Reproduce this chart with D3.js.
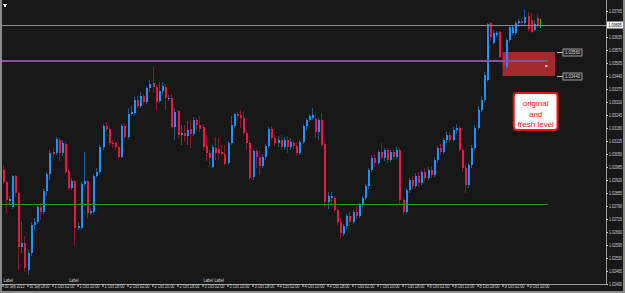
<!DOCTYPE html>
<html>
<head>
<meta charset="utf-8">
<script src="https://cdn.jsdelivr.net/npm/d3@7"></script>
<style>
  html, body { margin: 0; padding: 0; background: #171717; }
  svg { display: block; }
  text { font-family: "Liberation Sans", Arial, sans-serif; }
</style>
</head>
<body>
<svg id="chart" width="625" height="293"></svg>
<script>
// USDCAD H1, 30 Sep - 9 Oct 2013. prices kept in points (1 point = 0.00001)
const openPts = [
  102970,102910,102815,102785,102940,102855,102585,102605,102470,102555,
  102695,102710,102785,102760,102865,102950,103060,103055,103120,103055,
  103100,102965,102880,102915,102680,102680,102900,102915,102755,102760,
  102940,102960,103085,103190,103175,103105,103105,103085,103035,103190,
  103135,103250,103255,103320,103290,103340,103310,103380,103405,103385,
  103315,103365,103385,103325,103330,103185,103265,103145,103155,103140,
  103175,103150,103220,103195,103185,103090,103055,102985,103080,103075,
  103060,103050,103005,103105,103190,103250,103245,103230,103155,103105,
  102935,103065,103035,102990,103035,103090,103175,103130,103105,103120,
  103085,103120,103085,103105,103090,103055,103110,103190,103220,103230,
  103225,103160,103220,103100,102810,102830,102830,102770,102710,102650,
  102690,102740,102710,102760,102740,102795,102830,102890,102970,103030,
  103005,103060,103030,103070,103020,103060,103035,103070,102820,102760,
  102870,102920,102890,102940,102905,102960,102930,102970,102945,103020,
  103080,103060,103120,103145,103120,103170,103180,103070,102980,102895,
  102995,103080,103180,103270,103320,103420,103705,103605,103645,103660,
  103540,103485,103620,103655,103655,103705,103715,103705,103740,103720,
  103670,103730,103695
];
const highPts = [
  102995,102915,102840,102945,102945,102860,102710,102640,102570,102710,
  102730,102795,102805,102875,102960,103070,103080,103135,103130,103120,
  103110,102975,102930,102920,102710,102910,103060,102920,102780,102950,
  102980,103095,103200,103210,103185,103120,103115,103095,103200,103200,
  103280,103290,103335,103340,103360,103350,103390,103420,103485,103395,
  103410,103410,103400,103345,103350,103280,103270,103195,103195,103215,
  103220,103235,103230,103240,103200,103145,103070,103095,103135,103130,
  103095,103095,103115,103240,103255,103260,103270,103265,103170,103120,
  103075,103075,103070,103050,103100,103185,103190,103145,103140,103145,
  103135,103140,103130,103120,103105,103120,103200,103230,103250,103280,
  103250,103230,103255,103110,102860,102860,102840,102785,102730,102700,
  102750,102760,102770,102790,102805,102840,102900,102980,103045,103050,
  103070,103105,103080,103080,103070,103075,103085,103080,102830,102880,
  102930,102940,102955,102960,102970,102980,102985,102990,103035,103090,
  103100,103130,103165,103160,103185,103200,103190,103080,102995,103005,
  103095,103195,103290,103340,103460,103705,103710,103670,103665,103665,
  103550,103630,103695,103695,103715,103725,103730,103770,103760,103755,
  103720,103750,103725
];
const lowPts = [
  102900,102755,102800,102775,102840,102470,102555,102460,102445,102540,
  102670,102700,102720,102750,102840,102920,103030,103045,103015,103040,
  102950,102870,102870,102595,102670,102670,102890,102730,102745,102750,
  102930,102950,103070,103165,103090,103080,103070,103030,103030,103125,
  103125,103240,103245,103280,103280,103295,103300,103360,103355,103270,
  103305,103350,103270,103315,103180,103120,103130,103095,103110,103095,
  103080,103140,103170,103160,103065,103015,102985,102980,103020,103020,
  103035,102990,102995,103095,103180,103220,103180,103145,103070,102920,
  102920,102980,102945,102980,103020,103080,103120,103090,103085,103070,
  103070,103055,103070,103075,103040,103045,103100,103170,103210,103220,
  103130,103120,103085,102785,102775,102790,102760,102695,102630,102640,
  102675,102690,102700,102725,102730,102780,102820,102875,102960,102990,
  102995,103020,103015,103005,103010,103020,103025,102795,102745,102750,
  102855,102875,102880,102885,102895,102915,102920,102930,102935,103005,
  103045,103050,103105,103105,103110,103150,103060,102960,102855,102880,
  102980,103070,103170,103260,103310,103410,103620,103595,103635,103530,
  103480,103475,103610,103645,103645,103685,103695,103695,103665,103655,
  103665,103680,103680
];
const closePts = [
  102910,102820,102825,102940,102855,102585,102605,102480,102555,102695,
  102710,102785,102760,102865,102950,103055,103050,103125,103055,103105,
  102960,102880,102915,102680,102690,102900,102915,102755,102765,102940,
  102960,103085,103190,103175,103105,103100,103085,103035,103190,103135,
  103250,103260,103320,103290,103340,103310,103380,103400,103385,103310,
  103365,103390,103330,103330,103185,103260,103145,103155,103140,103170,
  103150,103220,103195,103175,103085,103055,103030,103085,103055,103055,
  103050,103000,103105,103195,103250,103240,103230,103155,103105,102930,
  103065,103035,102990,103035,103090,103175,103130,103105,103120,103085,
  103120,103085,103110,103090,103055,103110,103190,103220,103240,103245,
  103160,103220,103095,102810,102840,102840,102770,102710,102655,102690,
  102740,102710,102760,102740,102795,102830,102890,102970,103030,103005,
  103060,103030,103070,103020,103060,103035,103070,102820,102760,102870,
  102920,102890,102940,102905,102960,102930,102970,102945,103020,103080,
  103060,103120,103145,103120,103170,103180,103070,102980,102895,102995,
  103080,103180,103270,103320,103445,103700,103635,103655,103655,103535,
  103495,103620,103685,103685,103705,103715,103705,103735,103675,103660,
  103700,103690,103695
];

const timeLabels = [
  "30 Sep 2013", "30 Sep 18:00", "1 Oct 02:00", "1 Oct 10:00", "1 Oct 18:00",
  "2 Oct 02:00", "2 Oct 10:00", "2 Oct 18:00", "3 Oct 02:00", "3 Oct 10:00",
  "3 Oct 18:00", "4 Oct 02:00", "4 Oct 10:00", "4 Oct 18:00", "7 Oct 02:00",
  "7 Oct 10:00", "7 Oct 18:00", "8 Oct 02:00", "8 Oct 10:00", "8 Oct 18:00",
  "9 Oct 02:00", "9 Oct 10:00"
];
const timeLabelBars = [0,8,16,24,32,40,48,56,64,72,80,88,96,104,112,120,128,136,144,152,160,168];

const priceTicks = [
  1.03765, 1.03700, 1.03635, 1.03570, 1.03505, 1.03440, 1.03375, 1.03310,
  1.03245, 1.03180, 1.03115, 1.03050, 1.02985, 1.02920, 1.02855, 1.02790,
  1.02725, 1.02660, 1.02595, 1.02530, 1.02465, 1.02400
];

const bidPrice = 1.03695;
const levelPrices = [1.03520, 1.03515, 1.02800];
const levelColors = ["#7a5a96", "#3a8e3a", "#1f9a1f"];
const levelEndBar = 174.5;

const zoneTop = 1.03560, zoneBottom = 1.03440;
const zoneStartBar = 160, zoneEndBar = 176.8;

const objectLabels = ["Label", "Label", "Label", "Label"];
const objectLabelBars = [0, 21, 64, 67.5];

const noteLines = ["original", "and", "fresh level"];

// ---- layout
const plotLeft = 2, plotRight = 606, plotBottom = 284;
const svg = d3.select("#chart");
const fmt = d3.format(".5f");

const x = d3.scaleLinear().domain([0, 172]).range([2.5, 540]);
const y = d3.scaleLinear().domain([1.02400, 1.03765]).range([284, 11]);

const bars = openPts.map((o, i) => ({
  i: i,
  o: o / 1e5, h: highPts[i] / 1e5, l: lowPts[i] / 1e5, c: closePts[i] / 1e5
}));

svg.append("rect").attr("width", 625).attr("height", 293).attr("fill", "#171717");

// demand zone
svg.append("rect")
  .attr("x", x(zoneStartBar)).attr("y", y(zoneTop))
  .attr("width", x(zoneEndBar) - x(zoneStartBar))
  .attr("height", y(zoneBottom) - y(zoneTop))
  .attr("fill", "#a32a2c");

svg.append("rect")
  .attr("x", x(174) - 1).attr("y", y(1.03490) - 1)
  .attr("width", 2).attr("height", 2)
  .attr("fill", "#f0c8c8");

// candles
const upCol = "#1e90ff", downCol = "#ec1840", dojiCol = "#20c020";
function colOf(d) { return d.c > d.o ? upCol : (d.c < d.o ? downCol : dojiCol); }

const g = svg.append("g").attr("shape-rendering", "crispEdges");
g.selectAll("line.wick").data(bars).enter().append("line")
  .attr("x1", d => Math.round(x(d.i)) + 0.5).attr("x2", d => Math.round(x(d.i)) + 0.5)
  .attr("y1", d => y(d.h)).attr("y2", d => y(d.l))
  .attr("stroke", colOf)
  .attr("stroke-opacity", d => d.c === d.o ? 1 : 0.55);

g.selectAll("rect.body").data(bars.filter(d => d.c !== d.o)).enter().append("rect")
  .attr("x", d => Math.round(x(d.i)) - 0.5)
  .attr("y", d => y(Math.max(d.o, d.c)))
  .attr("width", 2)
  .attr("height", d => Math.max(1, Math.abs(y(d.o) - y(d.c))))
  .attr("fill", colOf);

// horizontal levels
levelPrices.forEach((p, k) => {
  svg.append("line")
    .attr("x1", plotLeft).attr("x2", x(levelEndBar))
    .attr("y1", Math.round(y(p)) + 0.5).attr("y2", Math.round(y(p)) + 0.5)
    .attr("stroke", levelColors[k]).attr("stroke-width", 1);
});

// bid line
svg.append("line")
  .attr("x1", plotLeft).attr("x2", plotRight)
  .attr("y1", Math.round(y(bidPrice)) + 0.5).attr("y2", Math.round(y(bidPrice)) + 0.5)
  .attr("stroke", "#8c8c8c").attr("stroke-width", 1);

// zone price tags
[zoneTop, zoneBottom].forEach(p => {
  const yy = Math.round(y(p)) + 0.5;
  svg.append("line").attr("x1", x(zoneEndBar) + 2).attr("x2", x(zoneEndBar) + 8)
    .attr("y1", yy).attr("y2", yy).attr("stroke", "#bdbdbd");
  svg.append("rect").attr("x", x(zoneEndBar) + 8).attr("y", yy - 3.5)
    .attr("width", 19).attr("height", 7)
    .attr("fill", "#202020").attr("stroke", "#bdbdbd").attr("stroke-width", 0.8);
  svg.append("text").attr("x", x(zoneEndBar) + 10).attr("y", yy + 1.8)
    .attr("font-size", 4.6).attr("fill", "#d8d8d8")
    .attr("textLength", 15).attr("lengthAdjust", "spacingAndGlyphs")
    .text(fmt(p));
});

// note box
const note = svg.append("g");
note.append("rect")
  .attr("x", x(163.6)).attr("y", y(1.03355))
  .attr("width", x(177.6) - x(163.6)).attr("height", y(1.03170) - y(1.03355))
  .attr("rx", 3).attr("fill", "#ffffff")
  .attr("stroke", "#ff1010").attr("stroke-width", 2);
noteLines.forEach((t, k) => {
  note.append("text")
    .attr("x", x(170.6)).attr("y", y(1.03355) + 13 + k * 10.5)
    .attr("text-anchor", "middle").attr("font-size", 8).attr("fill", "#ff1010")
    .text(t);
});

// frame pieces
svg.append("rect").attr("x", 0).attr("y", 0).attr("width", 2).attr("height", 293).attr("fill", "#8a8a8a");
svg.append("rect").attr("x", 623).attr("y", 0).attr("width", 2).attr("height", 293).attr("fill", "#8a8a8a");
svg.append("rect").attr("x", 0).attr("y", 291).attr("width", 625).attr("height", 2).attr("fill", "#8a8a8a");

// right price axis
const yAxis = svg.append("g")
  .attr("transform", `translate(${plotRight},0)`)
  .call(d3.axisRight(y).tickValues(priceTicks.filter(v => Math.abs(v - 1.03700) > 1e-7))
    .tickFormat(fmt).tickSize(2).tickPadding(1));
yAxis.select(".domain").attr("stroke", "#9a9a9a").attr("d", `M0.5,0V${plotBottom}`);
yAxis.selectAll(".tick line").attr("stroke", "#cfcfcf");
yAxis.selectAll(".tick text").attr("fill", "#d0d0d0").attr("font-size", 4.6)
  .attr("textLength", 13).attr("lengthAdjust", "spacingAndGlyphs")
  .attr("font-family", "'Liberation Sans', Arial, sans-serif");

// bid price tag
svg.append("rect").attr("x", plotRight + 1).attr("y", y(bidPrice) - 3.5)
  .attr("width", 16).attr("height", 7).attr("fill", "#f4f4f4");
svg.append("text").attr("x", plotRight + 2.5).attr("y", y(bidPrice) + 1.8)
  .attr("font-size", 4.6).attr("fill", "#000")
  .attr("textLength", 13).attr("lengthAdjust", "spacingAndGlyphs")
  .text(fmt(bidPrice));

// bottom time axis
const xAxis = svg.append("g")
  .attr("transform", `translate(0,${plotBottom})`)
  .call(d3.axisBottom(x).tickValues(timeLabelBars)
    .tickFormat((d, i) => timeLabels[i]).tickSize(3).tickPadding(1));
xAxis.select(".domain").attr("stroke", "#9a9a9a").attr("d", `M${plotLeft},0.5H${plotRight + 1}`);
xAxis.selectAll(".tick line").attr("stroke", "#cfcfcf");
xAxis.selectAll(".tick text").attr("fill", "#d0d0d0").attr("font-size", 4.6)
  .attr("text-anchor", "start").attr("x", 1.5).attr("dy", "0.1em")
  .attr("textLength", 20).attr("lengthAdjust", "spacingAndGlyphs")
  .attr("font-family", "'Liberation Sans', Arial, sans-serif");

// vertical-line object labels
objectLabels.forEach((t, k) => {
  svg.append("text").attr("x", x(objectLabelBars[k]) + 1).attr("y", 282)
    .attr("font-size", 4.8).attr("fill", "#d8d8d8")
    .attr("textLength", 9.5).attr("lengthAdjust", "spacingAndGlyphs")
    .text(t);
});

// tiny trade icon top-left
svg.append("path").attr("d", "M3,4H7V5H6V7H4V5H3Z").attr("fill", "#f0f0f0");
</script>
</body>
</html>
